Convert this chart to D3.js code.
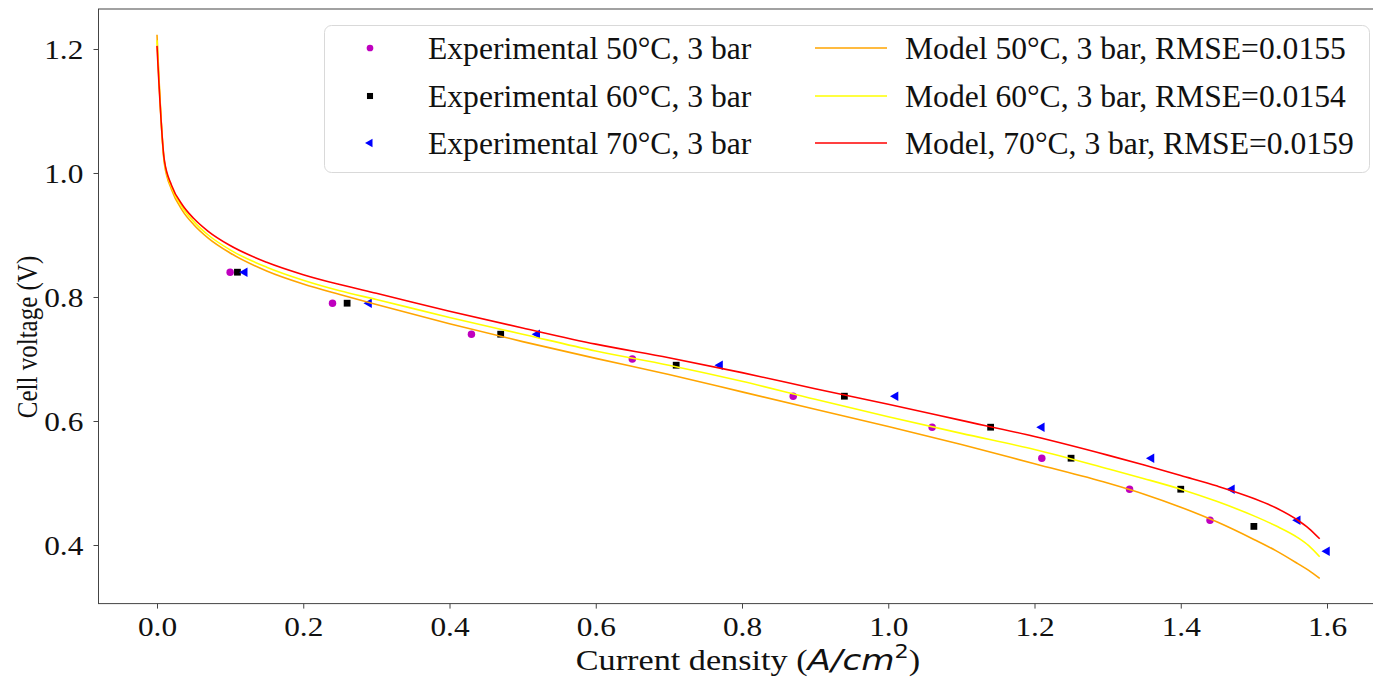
<!DOCTYPE html>
<html>
<head>
<meta charset="utf-8">
<script src="https://cdn.jsdelivr.net/npm/d3@7"></script>
<style>
  body { margin: 0; background: #fff; }
  svg { display: block; }
  text { font-family: "Liberation Serif", "Times New Roman", serif; }
</style>
</head>
<body>
<svg id="chart" width="1373" height="682"></svg>
<script>
// experimental points
var exp50x = [0.10, 0.24, 0.43, 0.65, 0.87, 1.06, 1.21, 1.33, 1.44];
var exp50y = [0.84, 0.79, 0.74, 0.70, 0.64, 0.59, 0.54, 0.49, 0.44];
var exp60x = [0.11, 0.26, 0.47, 0.71, 0.94, 1.14, 1.25, 1.40, 1.50];
var exp60y = [0.84, 0.79, 0.74, 0.69, 0.64, 0.59, 0.54, 0.49, 0.43];
var exp70x = [0.12, 0.29, 0.52, 0.77, 1.01, 1.21, 1.36, 1.47, 1.56, 1.60];
var exp70y = [0.84, 0.79, 0.74, 0.69, 0.64, 0.59, 0.54, 0.49, 0.44, 0.39];

// model curves
var modelX = [0, 0.01, 0.02, 0.035, 0.05, 0.07, 0.1, 0.15, 0.2, 0.25, 0.3, 0.4, 0.5, 0.6, 0.7, 0.8, 0.9, 1.0, 1.1, 1.2, 1.3, 1.35, 1.4, 1.45, 1.5, 1.53, 1.56, 1.575, 1.59];
var model50 = [1.223, 1.016, 0.973, 0.939, 0.917, 0.895, 0.871, 0.842, 0.821, 0.804, 0.788, 0.757, 0.728, 0.701, 0.675, 0.647, 0.619, 0.591, 0.562, 0.531, 0.500, 0.482, 0.461, 0.437, 0.409, 0.391, 0.370, 0.359, 0.346];
var model60 = [1.214, 1.019, 0.977, 0.944, 0.922, 0.900, 0.876, 0.848, 0.827, 0.810, 0.796, 0.767, 0.740, 0.713, 0.690, 0.664, 0.635, 0.607, 0.580, 0.554, 0.523, 0.507, 0.490, 0.470, 0.447, 0.431, 0.412, 0.399, 0.381];
var model70 = [1.205, 1.021, 0.980, 0.948, 0.927, 0.906, 0.883, 0.856, 0.836, 0.820, 0.806, 0.777, 0.750, 0.724, 0.702, 0.678, 0.652, 0.627, 0.601, 0.575, 0.545, 0.529, 0.512, 0.495, 0.475, 0.460, 0.440, 0.427, 0.410];

var xTicks = [0.0, 0.2, 0.4, 0.6, 0.8, 1.0, 1.2, 1.4, 1.6];
var yTicks = [0.4, 0.6, 0.8, 1.0, 1.2];

var expLabels = ["Experimental 50°C, 3 bar", "Experimental 60°C, 3 bar", "Experimental 70°C, 3 bar"];
var modelLabels = ["Model 50°C, 3 bar, RMSE=0.0155", "Model 60°C, 3 bar, RMSE=0.0154", "Model, 70°C, 3 bar, RMSE=0.0159"];

var svg = d3.select("#chart");
var x = d3.scaleLinear().domain([-0.08, 1.68]).range([98.5, 1385.5]);
var y = d3.scaleLinear().domain([0.3055, 1.2645]).range([603.6, 9]);

var axisColor = "#444";

// axes
var gx = svg.append("g").attr("transform", "translate(0,603.6)")
    .call(d3.axisBottom(x).tickValues(xTicks).tickFormat(d3.format(".1f")).tickSize(5).tickPadding(8));
var gy = svg.append("g").attr("transform", "translate(98.5,0)")
    .call(d3.axisLeft(y).tickValues(yTicks).tickFormat(d3.format(".1f")).tickSize(5).tickPadding(10));
[gx, gy].forEach(function (g) {
    g.select(".domain").remove();
    g.selectAll("line").attr("stroke", axisColor).attr("stroke-width", 1);
    g.selectAll("text").attr("fill", "#111").style("font-family", "Liberation Serif").style("font-size", "28px");
});
// the picture is a bit wider than tall, so the labels are stretched sideways
gx.selectAll("text").attr("dy", "0.71em").attr("transform", "scale(1.12,1)");
gy.selectAll("text").attr("dy", "0.34em").attr("x", -13.5).attr("transform", "scale(1.12,1)");

// frame
svg.append("rect")
    .attr("x", 98.5).attr("y", 9)
    .attr("width", 1385.5 - 98.5).attr("height", 603.6 - 9)
    .attr("fill", "none").attr("stroke", axisColor).attr("stroke-width", 1);

// scatter
function scatter(xs, ys, shape, color) {
    var pts = xs.map(function (d, i) { return [d, ys[i]]; });
    var sym = d3.symbol().type(shape.type).size(shape.size);
    svg.append("g").selectAll("path").data(pts).enter().append("path")
        .attr("d", sym)
        .attr("transform", function (d) { return "translate(" + x(d[0]) + "," + y(d[1]) + ")" + (shape.rot ? " rotate(" + shape.rot + ")" : ""); })
        .attr("fill", color);
}
var circleShape = { type: d3.symbolCircle, size: 44 };
var squareShape = { type: d3.symbolSquare, size: 46 };
var triShape = { type: d3.symbolTriangle, size: 40, rot: -90 };
scatter(exp50x, exp50y, circleShape, "#bf00bf");
scatter(exp60x, exp60y, squareShape, "#000000");
scatter(exp70x, exp70y, triShape, "#0000ff");

// model lines
var line = d3.line()
    .x(function (d) { return x(d[0]); })
    .y(function (d) { return y(d[1]); })
    .curve(d3.curveMonotoneX);
var modelColors = ["#ffa500", "#ffff00", "#ff0000"];
[model50, model60, model70].forEach(function (vals, k) {
    var pts = modelX.map(function (d, i) { return [d, vals[i]]; });
    svg.append("path").datum(pts)
        .attr("d", line)
        .attr("fill", "none")
        .attr("stroke", modelColors[k])
        .attr("stroke-width", 1.6);
});

// legend
var lg = svg.append("g");
lg.append("rect")
    .attr("x", 324.5).attr("y", 25.5).attr("width", 1045).attr("height", 147)
    .attr("rx", 7).attr("fill", "#fff").attr("fill-opacity", 0.8)
    .attr("stroke", "#d9d9d9").attr("stroke-width", 1);
var rowY = [48, 96, 143];
var shapes = [circleShape, squareShape, triShape];
var expColors = ["#bf00bf", "#000000", "#0000ff"];
rowY.forEach(function (ry, k) {
    var s = shapes[k];
    lg.append("path")
        .attr("d", d3.symbol().type(s.type).size(s.size * 0.8))
        .attr("transform", "translate(370," + ry + ")" + (s.rot ? " rotate(" + s.rot + ")" : ""))
        .attr("fill", expColors[k]);
    lg.append("text").attr("x", 428).attr("y", ry).attr("dy", "0.35em")
        .style("font-size", "31.6px").attr("fill", "#111").text(expLabels[k]);
    lg.append("line").attr("x1", 815).attr("x2", 887).attr("y1", ry).attr("y2", ry)
        .attr("stroke", modelColors[k]).attr("stroke-width", 1.6);
    lg.append("text").attr("x", 905).attr("y", ry).attr("dy", "0.35em")
        .style("font-size", "31.6px").attr("fill", "#111").text(modelLabels[k]);
});

// axis labels
var xl = svg.append("g").attr("transform", "translate(748,670) scale(1.18,1)")
    .append("text").attr("text-anchor", "middle")
    .style("font-size", "29px").attr("fill", "#111");
xl.append("tspan").text("Current density (");
xl.append("tspan").style("font-family", "DejaVu Sans").style("font-style", "italic").text("A/cm");
xl.append("tspan").style("font-family", "DejaVu Sans").style("font-size", "19px").attr("dy", "-12").text("2");
xl.append("tspan").attr("dy", "12").text(")");

svg.append("text")
    .attr("transform", "translate(37,337) scale(1.15,1) rotate(-90)")
    .attr("text-anchor", "middle")
    .style("font-size", "25px").attr("fill", "#111")
    .text("Cell voltage (V)");
</script>
</body>
</html>
